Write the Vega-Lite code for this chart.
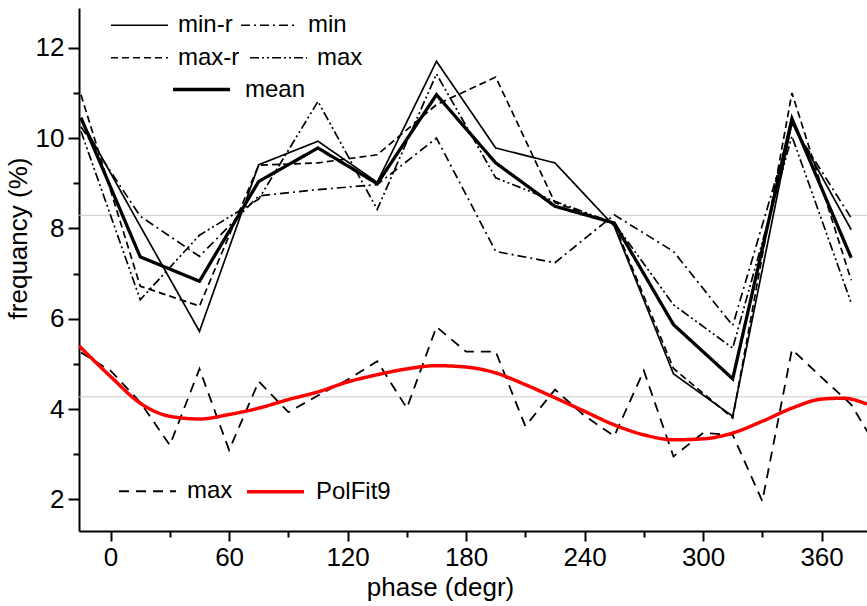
{
  "$schema": "https://vega.github.io/schema/vega-lite/v6.json",
  "width": 788,
  "height": 523,
  "autosize": {"type": "none"},
  "padding": {"left": 79, "top": 8, "right": 0, "bottom": 75},
  "background": "white",
  "config": {
    "view": {"stroke": null},
    "font": "Liberation Sans",
    "axis": {"grid": false, "domainColor": "black", "tickColor": "black", "labelColor": "black", "titleColor": "black", "domainWidth": 2, "tickWidth": 2, "labelFont": "Liberation Sans", "titleFont": "Liberation Sans", "titleFontWeight": "normal", "labelFontSize": 26, "titleFontSize": 26},
    "legend": {"labelFont": "Liberation Sans", "labelFontSize": 24, "labelColor": "black", "orient": "none", "direction": "horizontal", "title": null, "symbolType": "stroke", "symbolSize": 3249}
  },
  "datasets": {
    "levels": [{"level": 8.29}, {"level": 4.27}],
    "upper": [
      {"phase": -15, "series": "min-r", "freq": 10.4},
      {"phase": 15, "series": "min-r", "freq": 8.05},
      {"phase": 45, "series": "min-r", "freq": 5.72},
      {"phase": 75, "series": "min-r", "freq": 9.41},
      {"phase": 105, "series": "min-r", "freq": 9.93},
      {"phase": 135, "series": "min-r", "freq": 9.02},
      {"phase": 165, "series": "min-r", "freq": 11.7},
      {"phase": 195, "series": "min-r", "freq": 9.78},
      {"phase": 225, "series": "min-r", "freq": 9.45},
      {"phase": 255, "series": "min-r", "freq": 8.05},
      {"phase": 285, "series": "min-r", "freq": 4.78},
      {"phase": 315, "series": "min-r", "freq": 3.84},
      {"phase": 345, "series": "min-r", "freq": 10.34},
      {"phase": 375, "series": "min-r", "freq": 7.97},
      {"phase": -15, "series": "min", "freq": 10.25},
      {"phase": 15, "series": "min", "freq": 8.27},
      {"phase": 45, "series": "min", "freq": 7.38},
      {"phase": 75, "series": "min", "freq": 8.72},
      {"phase": 105, "series": "min", "freq": 8.86},
      {"phase": 135, "series": "min", "freq": 8.97},
      {"phase": 165, "series": "min", "freq": 10.0},
      {"phase": 195, "series": "min", "freq": 7.49},
      {"phase": 225, "series": "min", "freq": 7.24},
      {"phase": 255, "series": "min", "freq": 8.3},
      {"phase": 285, "series": "min", "freq": 7.49},
      {"phase": 315, "series": "min", "freq": 5.85},
      {"phase": 345, "series": "min", "freq": 10.3},
      {"phase": 375, "series": "min", "freq": 8.23},
      {"phase": -15, "series": "max-r", "freq": 10.96},
      {"phase": 15, "series": "max-r", "freq": 6.72},
      {"phase": 45, "series": "max-r", "freq": 6.28},
      {"phase": 75, "series": "max-r", "freq": 9.4},
      {"phase": 105, "series": "max-r", "freq": 9.45},
      {"phase": 135, "series": "max-r", "freq": 9.63},
      {"phase": 165, "series": "max-r", "freq": 10.74},
      {"phase": 195, "series": "max-r", "freq": 11.35},
      {"phase": 225, "series": "max-r", "freq": 8.57},
      {"phase": 255, "series": "max-r", "freq": 8.1},
      {"phase": 285, "series": "max-r", "freq": 4.9},
      {"phase": 315, "series": "max-r", "freq": 3.8},
      {"phase": 345, "series": "max-r", "freq": 11.0},
      {"phase": 375, "series": "max-r", "freq": 6.85},
      {"phase": -15, "series": "max", "freq": 10.15},
      {"phase": 15, "series": "max", "freq": 6.42},
      {"phase": 45, "series": "max", "freq": 7.85},
      {"phase": 75, "series": "max", "freq": 8.65},
      {"phase": 105, "series": "max", "freq": 10.81},
      {"phase": 135, "series": "max", "freq": 8.42},
      {"phase": 165, "series": "max", "freq": 11.42},
      {"phase": 195, "series": "max", "freq": 9.12},
      {"phase": 225, "series": "max", "freq": 8.6},
      {"phase": 255, "series": "max", "freq": 8.12},
      {"phase": 285, "series": "max", "freq": 6.31},
      {"phase": 315, "series": "max", "freq": 5.35},
      {"phase": 345, "series": "max", "freq": 10.04},
      {"phase": 375, "series": "max", "freq": 6.35},
      {"phase": -15, "series": "mean", "freq": 10.45},
      {"phase": 15, "series": "mean", "freq": 7.37},
      {"phase": 45, "series": "mean", "freq": 6.83},
      {"phase": 75, "series": "mean", "freq": 9.04},
      {"phase": 105, "series": "mean", "freq": 9.78},
      {"phase": 135, "series": "mean", "freq": 8.99},
      {"phase": 165, "series": "mean", "freq": 10.96},
      {"phase": 195, "series": "mean", "freq": 9.45},
      {"phase": 225, "series": "mean", "freq": 8.49},
      {"phase": 255, "series": "mean", "freq": 8.12},
      {"phase": 285, "series": "mean", "freq": 5.87},
      {"phase": 315, "series": "mean", "freq": 4.67},
      {"phase": 345, "series": "mean", "freq": 10.43},
      {"phase": 375, "series": "mean", "freq": 7.35}
    ],
    "lower": [
      {"phase": -15, "curve": "max", "freq": 5.25},
      {"phase": 0, "curve": "max", "freq": 4.85},
      {"phase": 15, "curve": "max", "freq": 4.15},
      {"phase": 30, "curve": "max", "freq": 3.2},
      {"phase": 45, "curve": "max", "freq": 4.89},
      {"phase": 60, "curve": "max", "freq": 3.09},
      {"phase": 75, "curve": "max", "freq": 4.61},
      {"phase": 90, "curve": "max", "freq": 3.93},
      {"phase": 105, "curve": "max", "freq": 4.3},
      {"phase": 120, "curve": "max", "freq": 4.65},
      {"phase": 135, "curve": "max", "freq": 5.06},
      {"phase": 150, "curve": "max", "freq": 4.02},
      {"phase": 165, "curve": "max", "freq": 5.82},
      {"phase": 180, "curve": "max", "freq": 5.27},
      {"phase": 195, "curve": "max", "freq": 5.27},
      {"phase": 210, "curve": "max", "freq": 3.62},
      {"phase": 225, "curve": "max", "freq": 4.43},
      {"phase": 240, "curve": "max", "freq": 3.85},
      {"phase": 255, "curve": "max", "freq": 3.4},
      {"phase": 270, "curve": "max", "freq": 4.85},
      {"phase": 285, "curve": "max", "freq": 2.95},
      {"phase": 300, "curve": "max", "freq": 3.47},
      {"phase": 315, "curve": "max", "freq": 3.43},
      {"phase": 330, "curve": "max", "freq": 1.96},
      {"phase": 345, "curve": "max", "freq": 5.32},
      {"phase": 360, "curve": "max", "freq": 4.7},
      {"phase": 375, "curve": "max", "freq": 4.1},
      {"phase": 390, "curve": "max", "freq": 3.0},
      {"phase": -16, "curve": "PolFit9", "freq": 5.4},
      {"phase": 0, "curve": "PolFit9", "freq": 4.72},
      {"phase": 15, "curve": "PolFit9", "freq": 4.13},
      {"phase": 30, "curve": "PolFit9", "freq": 3.84},
      {"phase": 45, "curve": "PolFit9", "freq": 3.78},
      {"phase": 60, "curve": "PolFit9", "freq": 3.88},
      {"phase": 75, "curve": "PolFit9", "freq": 4.02},
      {"phase": 90, "curve": "PolFit9", "freq": 4.21},
      {"phase": 105, "curve": "PolFit9", "freq": 4.38},
      {"phase": 120, "curve": "PolFit9", "freq": 4.6},
      {"phase": 135, "curve": "PolFit9", "freq": 4.76},
      {"phase": 150, "curve": "PolFit9", "freq": 4.89},
      {"phase": 165, "curve": "PolFit9", "freq": 4.96},
      {"phase": 180, "curve": "PolFit9", "freq": 4.93},
      {"phase": 195, "curve": "PolFit9", "freq": 4.8},
      {"phase": 210, "curve": "PolFit9", "freq": 4.54},
      {"phase": 225, "curve": "PolFit9", "freq": 4.25},
      {"phase": 240, "curve": "PolFit9", "freq": 3.95},
      {"phase": 255, "curve": "PolFit9", "freq": 3.65},
      {"phase": 270, "curve": "PolFit9", "freq": 3.43},
      {"phase": 285, "curve": "PolFit9", "freq": 3.32},
      {"phase": 300, "curve": "PolFit9", "freq": 3.34},
      {"phase": 315, "curve": "PolFit9", "freq": 3.47},
      {"phase": 330, "curve": "PolFit9", "freq": 3.73},
      {"phase": 345, "curve": "PolFit9", "freq": 4.02},
      {"phase": 360, "curve": "PolFit9", "freq": 4.22},
      {"phase": 371, "curve": "PolFit9", "freq": 4.24},
      {"phase": 383, "curve": "PolFit9", "freq": 4.11}
    ]
  },
  "layer": [
    {
      "data": {"name": "levels"},
      "mark": {"type": "rule", "color": "#c8c8c8", "strokeWidth": 1},
      "encoding": {
        "y": {"field": "level", "type": "quantitative", "scale": {"domain": [1.3, 12.88], "nice": false, "zero": false}, "axis": null}
      }
    },
    {
      "data": {"name": "upper"},
      "transform": [{"filter": "datum.series === 'min-r' || datum.series === 'min'"}],
      "mark": {"type": "line", "color": "black", "strokeWidth": 1.7, "clip": true},
      "encoding": {
        "x": {"field": "phase", "type": "quantitative", "scale": {"domain": [-16, 383], "nice": false, "zero": false},
          "axis": {"orient": "bottom", "values": [0, 60, 120, 180, 240, 300, 360], "title": "phase (degr)", "titleX": 361, "tickSize": 10, "labelPadding": 3, "titlePadding": 4}},
        "y": {"field": "freq", "type": "quantitative", "scale": {"domain": [1.3, 12.88], "nice": false, "zero": false},
          "axis": {"orient": "left", "values": [2, 4, 6, 8, 10, 12], "title": "frequancy (%)", "titleY": 230, "tickSize": 11, "labelPadding": 4, "titlePadding": 4}},
        "strokeDash": {"field": "series", "type": "nominal",
          "scale": {"domain": ["min-r", "min"], "range": [[1, 0], [9, 4, 2, 4]]},
          "legend": {"legendX": 31, "legendY": -12.5, "labelOffset": 9, "columnPadding": 4, "symbolStrokeColor": "black", "symbolStrokeWidth": 1.7}}
      }
    },
    {
      "data": {"name": "upper"},
      "transform": [{"filter": "datum.series === 'max-r' || datum.series === 'max'"}],
      "mark": {"type": "line", "color": "black", "strokeWidth": 1.7, "clip": true},
      "encoding": {
        "x": {"field": "phase", "type": "quantitative", "scale": {"domain": [-16, 383], "nice": false, "zero": false}, "axis": null},
        "y": {"field": "freq", "type": "quantitative", "scale": {"domain": [1.3, 12.88], "nice": false, "zero": false}, "axis": null},
        "strokeDash": {"field": "series", "type": "nominal",
          "scale": {"domain": ["max-r", "max"], "range": [[7, 4], [9, 3, 2, 3, 2, 3]]},
          "legend": {"legendX": 31, "legendY": 20, "labelOffset": 9, "columnPadding": 6, "symbolStrokeColor": "black", "symbolStrokeWidth": 1.7}}
      }
    },
    {
      "data": {"name": "lower"},
      "encoding": {
        "x": {"field": "phase", "type": "quantitative", "scale": {"domain": [-16, 383], "nice": false, "zero": false},
          "axis": {"orient": "bottom", "values": [30, 90, 150, 210, 270, 330], "labels": false, "domain": false, "tickSize": 6, "title": null}},
        "y": {"field": "freq", "type": "quantitative", "scale": {"domain": [1.3, 12.88], "nice": false, "zero": false},
          "axis": {"orient": "left", "values": [3, 5, 7, 9, 11], "labels": false, "domain": false, "tickSize": 6, "title": null}},
        "color": {"field": "curve", "type": "nominal", "scale": {"domain": ["max", "PolFit9"], "range": ["black", "#ff0000"]},
          "legend": {"legendX": 39, "legendY": 453, "labelOffset": 10, "columnPadding": 7}},
        "strokeDash": {"field": "curve", "type": "nominal", "scale": {"domain": ["max", "PolFit9"], "range": [[10, 7], [1, 0]]},
          "legend": {"legendX": 39, "legendY": 453, "labelOffset": 10, "columnPadding": 7}},
        "strokeWidth": {"field": "curve", "type": "nominal", "scale": {"domain": ["max", "PolFit9"], "range": [1.8, 3.5]},
          "legend": {"legendX": 39, "legendY": 453, "labelOffset": 10, "columnPadding": 7}}
      },
      "layer": [
        {"transform": [{"filter": "datum.curve === 'max'"}], "mark": {"type": "line", "clip": true}},
        {"transform": [{"filter": "datum.curve === 'PolFit9'"}], "mark": {"type": "line", "clip": true, "interpolate": "monotone"}}
      ]
    },
    {
      "data": {"name": "upper"},
      "transform": [{"filter": "datum.series === 'mean'"}],
      "mark": {"type": "line", "color": "black", "strokeWidth": 3.3, "clip": true},
      "encoding": {
        "x": {"field": "phase", "type": "quantitative", "scale": {"domain": [-16, 383], "nice": false, "zero": false}, "axis": null},
        "y": {"field": "freq", "type": "quantitative", "scale": {"domain": [1.3, 12.88], "nice": false, "zero": false}, "axis": null},
        "strokeDash": {"field": "series", "type": "nominal",
          "scale": {"domain": ["mean"], "range": [[1, 0]]},
          "legend": {"legendX": 92, "legendY": 51, "labelOffset": 13, "symbolStrokeColor": "black", "symbolStrokeWidth": 3.3}}
      }
    }
  ],
  "resolve": {
    "scale": {"color": "independent", "strokeDash": "independent", "strokeWidth": "independent"},
    "legend": {"color": "independent", "strokeDash": "independent", "strokeWidth": "independent"},
    "axis": {"x": "independent", "y": "independent"}
  }
}
